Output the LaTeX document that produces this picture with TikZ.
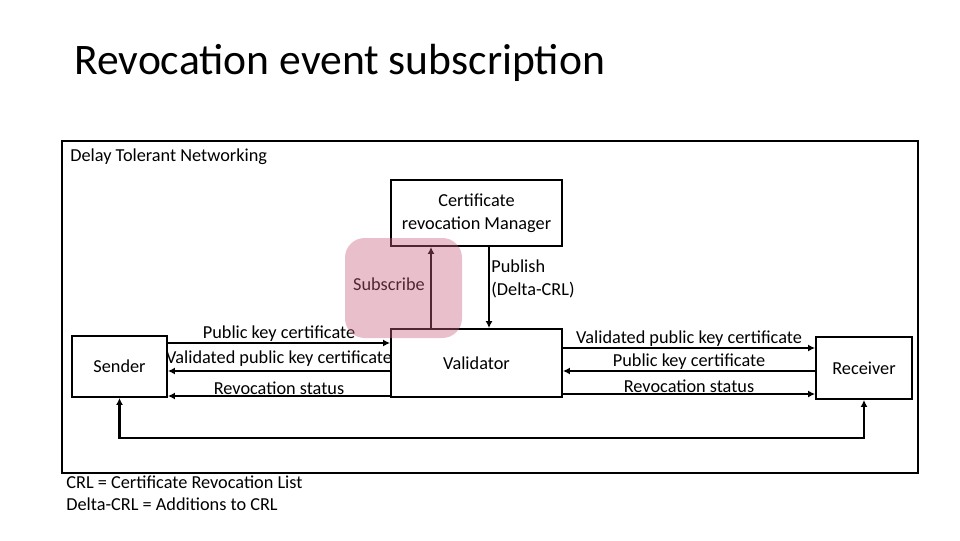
\documentclass[tikz,border=0pt]{standalone}
\usepackage{fontspec}
\setmainfont{Carlito}
\usetikzlibrary{arrows.meta}
\definecolor{subpink}{RGB}{200,95,125}
\tikzset{box/.style={draw,line width=1.3pt,align=center,inner sep=0pt},
    msg/.style={line width=1.6pt,-{Latex[length=5pt,width=5pt]}},
    lbl/.style={inner sep=1.5pt,font=\fontsize{13pt}{16pt}\selectfont},
    tag/.style={lbl,above,inner sep=0.3pt},
    x=0.025cm,y=-0.025cm}
\begin{document}
\begin{tikzpicture}
\useasboundingbox (0,0) rectangle (960,540);
\node[anchor=base west,inner sep=0pt,font=\fontsize{31pt}{36pt}\selectfont] (title) at (74,74) {Revocation event subscription};
% frame
\node[box,line width=1.1pt,minimum width=21.4cm,minimum height=8.3cm] (dtn) at (490,307) {};
\node[lbl,anchor=west] (dtnlbl) at (68,157) {Delay Tolerant Networking};
% boxes
\node[box,lbl,minimum width=4.275cm,minimum height=1.65cm] (crm) at (476.5,213) {Certificate\\revocation Manager};
\node[box,lbl,minimum width=4.275cm,minimum height=1.7cm] (valid) at (476.5,363) {Validator};
\node[box,lbl,minimum width=2.375cm,minimum height=1.525cm] (sender) at (119.5,366.5) {Sender};
\node[box,lbl,minimum width=2.4cm,minimum height=1.55cm] (recv) at (864,368) {Receiver};
% subscribe / publish
\draw[msg] (valid.north -| 431,0) -- (crm.south -| 431,0);
\node[lbl] (sublbl) at (389,284) {Subscribe};
\draw[msg] (crm.south -| 489,0) -- (valid.north -| 489,0);
\node[lbl,anchor=west,align=left] (publbl) at (489,279) {Publish\\(Delta-CRL)};
% sender side
\draw[msg] (sender.east |- 0,343) -- node[tag] {Public key certificate} (valid.west |- 0,343);
\draw[msg] (valid.west |- 0,371) -- node[tag,yshift=2pt] {Validated public key certificate} (sender.east |- 0,371);
\draw[msg] (valid.west |- 0,396) -- node[tag] {Revocation status} (sender.east |- 0,396);
% receiver side
\draw[msg] (valid.east |- 0,348) -- node[tag] {Validated public key certificate} (recv.west |- 0,348);
\draw[msg] (recv.west |- 0,371) -- node[tag] {Public key certificate} (valid.east |- 0,371);
\draw[msg] (valid.east |- 0,394) -- node[tag] {Revocation status} (recv.west |- 0,394);
% sender <-> receiver
\coordinate (base) at (0,438);
\draw[msg,{Latex[length=5pt,width=5pt]}-{Latex[length=5pt,width=5pt]}] (sender.south) -- (sender.south |- base) -| (recv.south);
% legend
\node[lbl,anchor=west,align=left] (legend) at (64,493) {CRL = Certificate Revocation List\\Delta-CRL = Additions to CRL};
% highlight
\fill[subpink,opacity=0.4,rounded corners=14pt] (345,238) rectangle (462,338);
\end{tikzpicture}
\end{document}
